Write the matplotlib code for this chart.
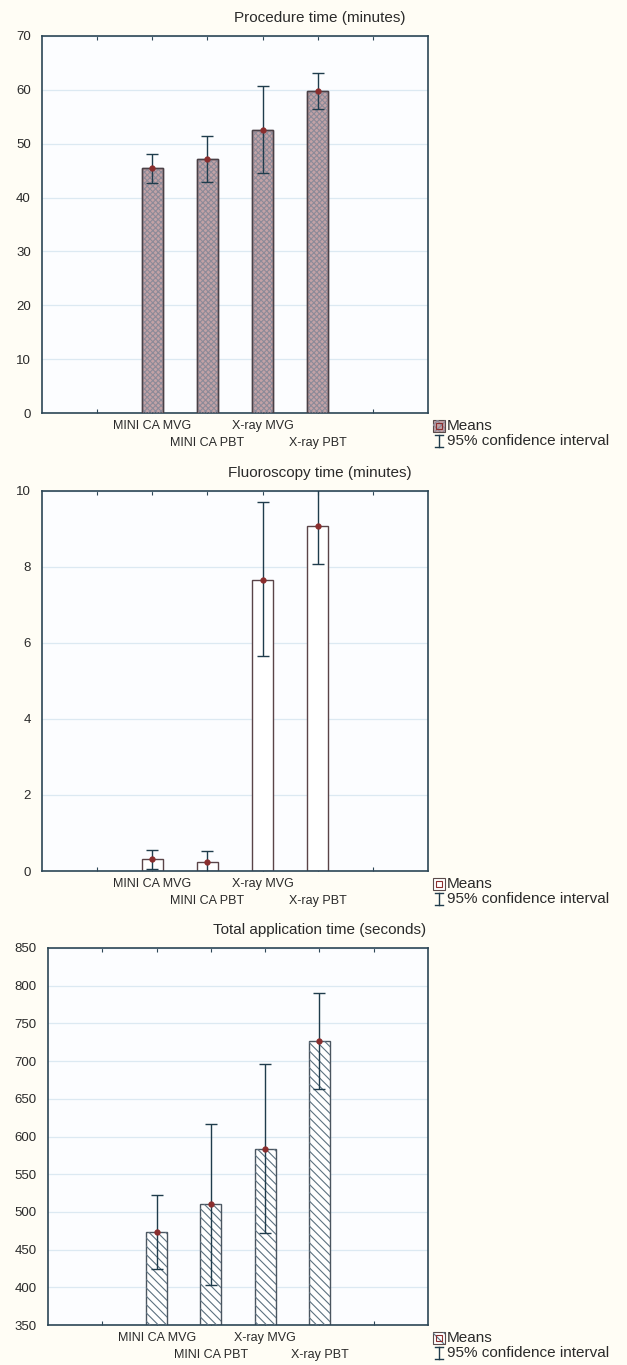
import numpy as np
import matplotlib.pyplot as plt
from matplotlib.patches import Rectangle
from matplotlib.lines import Line2D

plt.rcParams['font.family'] = ['Liberation Sans', 'DejaVu Sans']
plt.rcParams['hatch.linewidth'] = 0.8

groups = ['MINI CA MVG', 'MINI CA PBT', 'X-ray MVG', 'X-ray PBT']

# procedure time (minutes)
proc_mean = [45.4, 47.1, 52.5, 59.8]
proc_lo = [42.7, 42.9, 44.6, 56.5]
proc_hi = [48.0, 51.4, 60.7, 63.2]

# fluoroscopy time (minutes)
fluo_mean = [0.31, 0.23, 7.67, 9.09]
fluo_lo = [0.04, -0.06, 5.65, 8.09]
fluo_hi = [0.56, 0.52, 9.70, 10.2]

# total application time (seconds)
appl_mean = [473.6, 510.3, 584.0, 726.8]
appl_lo = [424.2, 403.0, 472.3, 663.0]
appl_hi = [522.3, 617.0, 695.9, 790.9]

W, H = 627, 1365
bg = '#fffdf5'
spine_col = '#2c4656'
err_col = '#1f3c4c'
mean_col = '#8b2e2e'
grid_col = '#dce9f2'
txt_col = '#2a2a2a'

fig = plt.figure(figsize=(W / 100, H / 100), dpi=100, facecolor=bg)


def px_axes(left, top, right, bottom):
    return fig.add_axes([left / W, 1 - bottom / H, (right - left) / W, (bottom - top) / H])


def style(ax, ylim, yticks, title):
    ax.set_facecolor('#fcfdff')
    ax.set_xlim(0, 7)
    ax.set_ylim(*ylim)
    ax.set_yticks(yticks)
    ax.set_yticklabels([str(t) for t in yticks], fontsize=9.5, color=txt_col)
    # upper row of labels on major ticks, lower row on minor ticks
    ax.set_xticks([1, 2, 3, 4, 5, 6])
    ax.set_xticklabels(['', groups[0], '', groups[2], '', ''], fontsize=9, color=txt_col)
    ax.set_xticks([3.0001, 5.0001], minor=True)
    ax.set_xticklabels([groups[1], groups[3]], minor=True, fontsize=9, color=txt_col)
    ax.tick_params(axis='x', which='major', direction='in', length=3, top=True, color=spine_col, pad=5)
    ax.tick_params(axis='x', which='minor', length=0, pad=17)
    ax.tick_params(axis='y', direction='in', length=0, pad=8)
    ax.grid(axis='y', color=grid_col, lw=0.9)
    ax.set_axisbelow(True)
    for s in ax.spines.values():
        s.set_color(spine_col)
        s.set_linewidth(1.2)
    pos = ax.get_position()
    fig.text(320 / W, pos.y1 + 18 / H, title, ha='center', va='center', fontsize=11, color=txt_col)


def draw_err(ax, x, mean, lo, hi):
    ax.errorbar(x, mean, yerr=[np.array(mean) - np.array(lo), np.array(hi) - np.array(mean)],
                fmt='none', ecolor=err_col, elinewidth=1.0, capsize=4, capthick=1.0, zorder=4)
    ax.plot(x, mean, 'o', ms=3.5, color=mean_col, zorder=5)


def legend(ax, face, hatch, hatch_col, inner):
    pos = ax.get_position()
    y0 = (1 - pos.y0) * H  # axes bottom in pixels from top
    sq_top = y0 + 7
    fig.add_artist(Rectangle((433 / W, 1 - (sq_top + 12) / H), 12 / W, 12 / H,
                             transform=fig.transFigure, facecolor=face, edgecolor='#5a4a4a', lw=0.8))
    if hatch:
        fig.add_artist(Rectangle((433 / W, 1 - (sq_top + 12) / H), 12 / W, 12 / H,
                                 transform=fig.transFigure, fill=False, hatch=hatch,
                                 edgecolor=hatch_col, lw=0))
    if inner:
        fig.add_artist(Rectangle((436 / W, 1 - (sq_top + 9) / H), 6 / W, 6 / H,
                                 transform=fig.transFigure, fill=False, edgecolor=mean_col, lw=0.8))
    fig.text(447 / W, 1 - (sq_top + 6) / H, 'Means', fontsize=11, va='center', ha='left', color=txt_col)
    cy = sq_top + 21
    fig.add_artist(Line2D([439 / W, 439 / W], [1 - (cy - 6) / H, 1 - (cy + 6) / H],
                          transform=fig.transFigure, color=err_col, lw=1))
    for yy in (cy - 6, cy + 6):
        fig.add_artist(Line2D([435 / W, 443 / W], [1 - yy / H, 1 - yy / H],
                              transform=fig.transFigure, color=err_col, lw=1))
    fig.text(447 / W, 1 - cy / H, '95% confidence interval', fontsize=11, va='center', ha='left',
             color=txt_col)


xpos = np.arange(2, 6)
bw = 0.39

# panel 1
ax1 = px_axes(42, 36, 428, 413)
style(ax1, (0, 70), list(range(0, 71, 10)), 'Procedure time (minutes)')
ax1.bar(xpos, proc_mean, width=bw, color='#c2a2a6', edgecolor='#4a4046', lw=1.0, zorder=2)
ax1.bar(xpos, proc_mean, width=bw, fill=False, hatch='xxxxxx', edgecolor='#8c8a98', lw=0, zorder=3)
ax1.bar(xpos, proc_mean, width=bw, fill=False, edgecolor='#4a4046', lw=1.0, zorder=3)
draw_err(ax1, xpos, proc_mean, proc_lo, proc_hi)
legend(ax1, '#c2a2a6', 'xxxx', '#8c8a98', True)

# panel 2
ax2 = px_axes(42, 491, 428, 871)
style(ax2, (0, 10), list(range(0, 11, 2)), 'Fluoroscopy time (minutes)')
ax2.bar(xpos, fluo_mean, width=bw, color='white', edgecolor='#5a4448', lw=1.0, zorder=2)
draw_err(ax2, xpos, fluo_mean, fluo_lo, fluo_hi)
legend(ax2, 'white', None, None, True)

# panel 3
ax3 = px_axes(48, 948, 428, 1325)
style(ax3, (350, 850), list(range(350, 851, 50)), 'Total application time (seconds)')
ax3.bar(xpos, np.array(appl_mean) - 350, bottom=350, width=bw, color='white', edgecolor='#4a5560',
        lw=1.0, zorder=2)
ax3.bar(xpos, np.array(appl_mean) - 350, bottom=350, width=bw, fill=False, hatch='\\\\\\\\',
        edgecolor='#5d7180', lw=0, zorder=3)
draw_err(ax3, xpos, appl_mean, appl_lo, appl_hi)
legend(ax3, 'white', '\\\\\\', '#5d7180', True)

fig.savefig('out.png', dpi=100, facecolor=bg)
